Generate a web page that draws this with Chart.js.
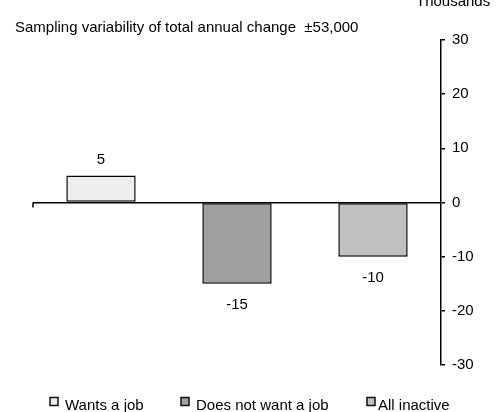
<!DOCTYPE html>
<html>
<head>
<meta charset="utf-8">
<script src="https://cdn.jsdelivr.net/npm/chart.js@4/dist/chart.umd.min.js"></script>
<style>
html,body{margin:0;padding:0;background:#fff;}
#wrap{width:502px;height:412px;position:relative;}
</style>
</head>
<body>
<div id="wrap"><canvas id="c" width="502" height="412"></canvas></div>
<script>
const categories = ['Wants a job', 'Does not want a job', 'All inactive'];
const values = [5, -15, -10];
const yMin = -30, yMax = 30, yStep = 10;
const titleText = 'Sampling variability of total annual change  \u00B153,000';
const unitText = 'Thousands';

const FONT = '"Liberation Sans", Arial, sans-serif';
const FS = 15;
const barColors = ['#eeeeee', '#a0a0a0', '#c0c0c0'];

const annotatePlugin = {
  id: 'annotate',
  afterDatasetsDraw(chart) {
    const ctx = chart.ctx;
    const meta = chart.getDatasetMeta(0);
    const ys = chart.scales.y;
    ctx.save();
    const y0 = ys.getPixelForValue(0);
    ctx.strokeStyle = '#000';
    ctx.lineWidth = 1.5;
    ctx.beginPath();
    ctx.moveTo(chart.chartArea.left, y0);
    ctx.lineTo(chart.chartArea.left, y0 + 5);
    ctx.stroke();
    ctx.fillStyle = '#000';
    ctx.font = FS + 'px ' + FONT;
    ctx.textAlign = 'center';
    ctx.textBaseline = 'middle';
    meta.data.forEach((bar, i) => {
      const v = chart.data.datasets[0].data[i];
      const y = v >= 0 ? bar.y - 16 : bar.y + 21;
      ctx.fillText(String(v), bar.x, y);
    });
    ctx.restore();
  },
  afterDraw(chart) {
    const ctx = chart.ctx;
    ctx.save();
    ctx.fillStyle = '#000';
    ctx.font = FS + 'px ' + FONT;
    ctx.textAlign = 'left';
    ctx.textBaseline = 'alphabetic';
    ctx.fillText(titleText, 15, 32);
    ctx.fillText(unitText, 416, 6);
    const boxX = [50, 181, 367];
    const textX = [65, 196, 378];
    const ds = chart.data.datasets[0];
    chart.data.labels.forEach((lab, i) => {
      ctx.fillStyle = ds.backgroundColor[i];
      ctx.fillRect(boxX[i], 397.5, 8, 8);
      ctx.strokeStyle = '#111';
      ctx.lineWidth = 1.5;
      ctx.strokeRect(boxX[i], 397.5, 8, 8);
      ctx.fillStyle = '#000';
      ctx.fillText(lab, textX[i], 410);
    });
    ctx.restore();
  }
};

new Chart(document.getElementById('c'), {
  type: 'bar',
  data: {
    labels: categories,
    datasets: [{
      data: values,
      backgroundColor: barColors,
      borderColor: '#000',
      borderWidth: 1.5,
      borderSkipped: false,
      barPercentage: 0.51,
      categoryPercentage: 1.0
    }]
  },
  options: {
    responsive: false,
    animation: false,
    devicePixelRatio: 1,
    layout: { padding: { top: 40, bottom: 47, left: 33, right: 0 } },
    plugins: {
      legend: { display: false },
      tooltip: { enabled: false },
      title: { display: false }
    },
    scales: {
      x: { display: false },
      y: {
        position: 'right',
        min: yMin,
        max: yMax,
        afterFit(scale) { scale.width = 61; },
        ticks: {
          stepSize: yStep,
          color: '#000',
          padding: 7,
          font: { family: FONT, size: FS }
        },
        grid: {
          drawOnChartArea: true,
          color: (c) => (c.tick && c.tick.value === 0 ? '#000' : 'rgba(0,0,0,0)'),
          tickColor: '#000',
          tickLength: 4,
          lineWidth: 1.5
        },
        border: { display: true, color: '#000', width: 1.5 }
      }
    }
  },
  plugins: [annotatePlugin]
});
</script>
</body>
</html>
